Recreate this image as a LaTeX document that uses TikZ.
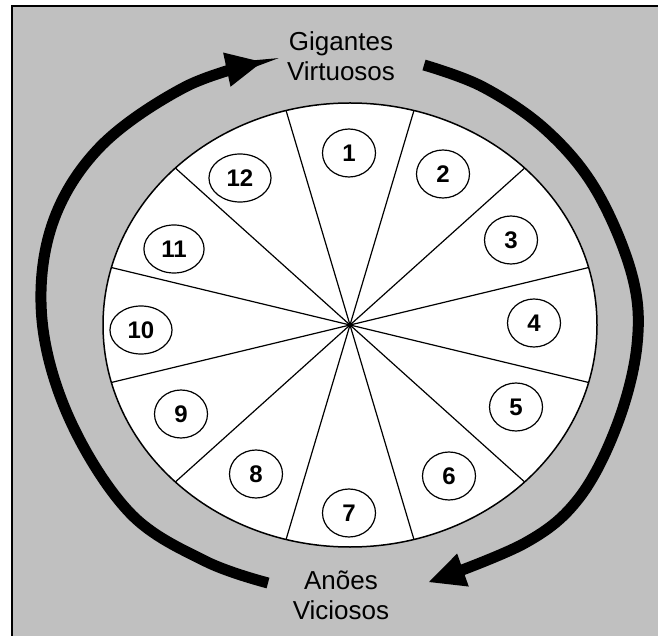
\documentclass[tikz,border=0pt]{standalone}
\usepackage{fontspec}
\setmainfont{Liberation Sans}
\usetikzlibrary{arrows.meta,shapes.geometric}
\definecolor{panel}{RGB}{192,192,192}

\begin{document}
\begin{tikzpicture}[x=1pt, y=1pt,
  frame/.style={fill=panel, draw=black, line width=2pt},
  wheel/.style={fill=white, draw=black, line width=1.5pt},
  spoke/.style={draw=black, line width=1.2pt},
  num/.style={ellipse, draw=black, fill=white, line width=1.2pt,
    minimum width=53pt, minimum height=48pt, inner xsep=8.6pt, inner ysep=2pt,
    font=\bfseries\fontsize{24}{24}\selectfont},
  lab/.style={align=center, inner sep=0pt, anchor=north,
    font=\fontsize{26}{30}\selectfont},
  cyc/.style={line width=11pt,
    -{Triangle[length=36pt, width=35pt, line width=0pt]}}]
  \clip (0,0) rectangle (658,635);
  % fundo
  \draw[frame] (12,-20) rectangle (690,628.5);
  % roda
  \coordinate (c) at (350,310);
  \fill[white] (c) ellipse [x radius=247pt, y radius=222pt];
  \foreach \a in {15,45,...,345}
    \draw[spoke] (c) -- ++(\a:247pt and 222pt);
  \draw[wheel, fill=none] (c) ellipse [x radius=247pt, y radius=222pt];
  % casas
  \foreach \n/\x/\y in {1/349/482, 2/443/461, 3/511/395, 4/534/312,
      5/516/228, 6/449/159, 7/349/122, 8/256/161, 9/181/221,
      10/141/305, 11/174/386, 12/240/457}
    \node[num] (n\n) at (\x,\y) {\n};
  % textos
  \node[lab] (gig) at (341,604) {Gigantes\\Virtuosos};
  \node[lab] (ano) at (341,64) {Anões\\Viciosos};
  % setas
  \coordinate (ls) at (268,52);
  \coordinate (lt) at (262,573);
  \coordinate (rs) at (424,570);
  \coordinate (rt) at (429,53);
  \draw[cyc] plot[smooth, tension=0.6] coordinates {(ls) (205,74) (130,122)
    (70,215) (42,315) (52,410) (100,488) (185,548) (lt)};
  \draw[cyc] plot[smooth, tension=0.6] coordinates {(rs) (483,548) (546,505)
    (596,445) (632,360) (637,290) (617,210) (579,137) (525,92) (rt)};
\end{tikzpicture}
\end{document}
